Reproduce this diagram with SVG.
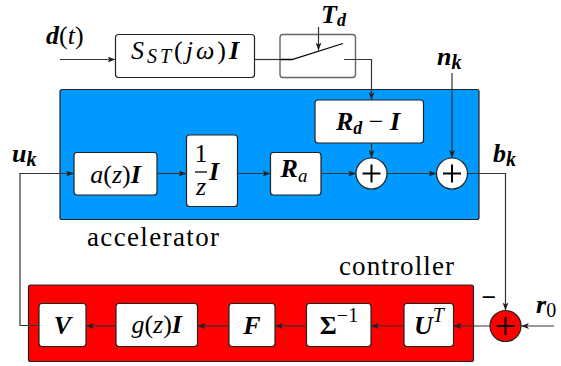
<svg xmlns="http://www.w3.org/2000/svg" width="561" height="366" viewBox="0 0 561 366">
<defs>
<marker id="ar" viewBox="0 0 8 6" markerWidth="8" markerHeight="6" refX="8" refY="3" orient="auto" markerUnits="userSpaceOnUse">
<path d="M0,0 L8,3 L0,6 L2,3 Z" fill="#222"/>
</marker>
<style>
.box{fill:#fff;stroke:#222;stroke-width:1.2}
.gbox{fill:#fff;stroke:#666;stroke-width:1.4}
.ln{fill:none;stroke:#333;stroke-width:1.2}
.ar{marker-end:url(#ar)}
text{font-family:'Liberation Serif', 'DejaVu Serif', serif}
.m{font-style:italic;font-size:26px;fill:#000}
.b{font-weight:bold}
.r{font-style:normal}
.t{font-size:27px;fill:#000}
.plus{stroke:#000;stroke-width:2;fill:none}
</style>
</defs>

<g id="accelerator">
<rect x="60" y="89.5" width="419" height="130" rx="2" fill="#0099ff" stroke="#222" stroke-width="1.2"/>
<text class="t" x="87" y="246" textLength="132" lengthAdjust="spacing">accelerator</text>
</g>
<g id="controller">
<rect x="28.5" y="285" width="445" height="76.5" rx="2" fill="#ff0000" stroke="#222" stroke-width="1.2"/>
<text class="t" x="339" y="275" textLength="115" lengthAdjust="spacing">controller</text>
</g>

<g id="S_ST">
<rect class="box" x="115.5" y="34.5" width="139" height="43" rx="3"/>
<text class="m" x="185" y="59" text-anchor="middle" font-size="30" textLength="108" lengthAdjust="spacing">S<tspan font-size="20" dy="4">ST</tspan><tspan class="r" dy="-4">(</tspan>jω<tspan class="r">)</tspan><tspan class="b">I</tspan></text>
</g>
<g id="switch">
<rect class="gbox" x="280" y="34.5" width="75.5" height="43" rx="3"/>
</g>
<g id="RdI">
<rect class="box" x="315" y="100" width="108.5" height="43" rx="3"/>
<text class="m b" x="368" y="130" text-anchor="middle" font-size="28">R<tspan font-size="18" dy="4">d</tspan><tspan class="r" font-weight="normal" dy="-4"> − </tspan>I</text>
</g>
<g id="az">
<rect class="box" x="74" y="152.5" width="83" height="42.5" rx="3"/>
<text class="m" x="115.5" y="183" text-anchor="middle" font-size="30">a<tspan class="r">(</tspan>z<tspan class="r">)</tspan><tspan class="b">I</tspan></text>
</g>
<g id="invz">
<rect class="box" x="186.5" y="135" width="51" height="71.5" rx="3"/>
<text class="m r" x="201" y="162" text-anchor="middle" font-size="25">1</text>
<path d="M195,172 H207" stroke="#000" stroke-width="1.3"/>
<text class="m" x="201" y="195" text-anchor="middle" font-size="26">z</text>
<text class="m b" x="209" y="180" font-size="28">I</text>
</g>
<g id="Ra">
<rect class="box" x="270.5" y="152.5" width="50.5" height="42.5" rx="3"/>
<text class="m b" x="294" y="177" text-anchor="middle" font-size="28">R<tspan font-weight="normal" font-size="19" dy="5">a</tspan></text>
</g>
<g id="sum1">
<circle cx="371.5" cy="173.5" r="15.5" fill="#fff" stroke="#222" stroke-width="1.2"/>
<path class="plus" d="M362.5,173.5 H380.5 M371.5,164.5 V182.5"/>
</g>
<g id="sum2">
<circle cx="452" cy="173.5" r="15.5" fill="#fff" stroke="#222" stroke-width="1.2"/>
<path class="plus" d="M443,173.5 H461 M452,164.5 V182.5"/>
</g>
<g id="sum3">
<circle cx="505.5" cy="326" r="15.5" fill="#ff0000" stroke="#222" stroke-width="1.2"/>
<path class="plus" d="M496.5,326 H514.5 M505.5,317 V335"/>
</g>
<g id="V">
<rect class="box" x="39" y="303.5" width="47" height="43" rx="3"/>
<text class="m b" x="62.5" y="334" text-anchor="middle" font-size="30">V</text>
</g>
<g id="gz">
<rect class="box" x="116" y="303.5" width="81.5" height="43" rx="3"/>
<text class="m" x="156.7" y="333" text-anchor="middle" font-size="30">g<tspan class="r">(</tspan>z<tspan class="r">)</tspan><tspan class="b">I</tspan></text>
</g>
<g id="F">
<rect class="box" x="229" y="303.5" width="46" height="43" rx="3"/>
<text class="m b" x="252" y="334" text-anchor="middle" font-size="30">F</text>
</g>
<g id="Sigma">
<rect class="box" x="306.5" y="303.5" width="64.5" height="43" rx="3"/>
<text class="m r b" x="339" y="334" text-anchor="middle" font-size="30">Σ<tspan font-weight="normal" font-size="20" dy="-12">−1</tspan></text>
</g>
<g id="UT">
<rect class="box" x="404" y="303.5" width="49.5" height="43" rx="3"/>
<text class="m b" x="429" y="334" text-anchor="middle" font-size="30">U<tspan font-weight="normal" font-size="20" dy="-12">T</tspan></text>
</g>

<g id="connectors">
<path class="ln ar" d="M60,59.5 H115.5"/>
<path class="ln" d="M254.5,59.5 H280"/>
<path d="M280,59.5 H292 L343,43.5" fill="none" stroke="#000" stroke-width="1.3"/>
<path class="ln ar" d="M344,59.5 H371.5 V100"/>
<path class="ln ar" d="M318.5,27 V50.5"/>
<path class="ln ar" d="M371.5,143 V158"/>
<path class="ln ar" d="M452,73 V158"/>
<path class="ln ar" d="M39,325.5 H20 V173.5 H74"/>
<path class="ln ar" d="M157,173.5 H186.5"/>
<path class="ln ar" d="M237.5,173.5 H270.5"/>
<path class="ln ar" d="M321,173.5 H356"/>
<path class="ln ar" d="M387,173.5 H436.5"/>
<path class="ln ar" d="M467.5,173.5 H505.5 V310.5"/>
<path class="ln ar" d="M554,326 H521"/>
<path class="ln ar" d="M490,326 H453.5"/>
<path class="ln ar" d="M404,326 H371"/>
<path class="ln ar" d="M306.5,326 H275"/>
<path class="ln ar" d="M229,326 H197.5"/>
<path class="ln ar" d="M116,326 H86"/>
</g>

<g id="labels">
<text class="m" x="46" y="44" font-size="31"><tspan class="b">d</tspan><tspan class="r">(</tspan>t<tspan class="r">)</tspan></text>
<text class="m b" x="321" y="23" font-size="27">T<tspan font-size="18" dy="3">d</tspan></text>
<text class="m b" x="437" y="65" font-size="30">n<tspan font-size="20" dy="4">k</tspan></text>
<text class="m b" x="12" y="162" font-size="30">u<tspan font-size="20" dy="4">k</tspan></text>
<text class="m b" x="493" y="162" font-size="30">b<tspan font-size="20" dy="4">k</tspan></text>
<text class="m b" x="536" y="313" font-size="30">r<tspan class="r" font-weight="normal" font-size="20" dy="4">0</tspan></text>
<text class="m r b" x="489" y="306" text-anchor="middle" font-size="26">−</text>
</g>
</svg>
